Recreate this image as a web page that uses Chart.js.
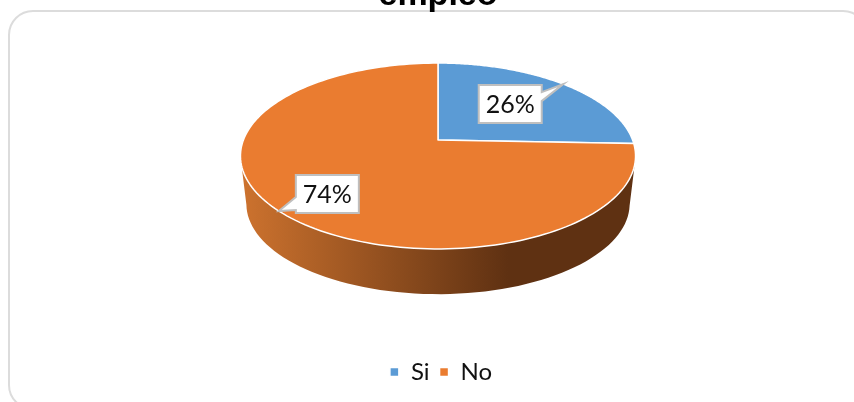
<!DOCTYPE html>
<html>
<head>
<meta charset="utf-8">
<title>empleo</title>
<script src="https://cdn.jsdelivr.net/npm/chart.js@4/dist/chart.umd.js"></script>
<style>
    html, body { margin: 0; width: 854px; height: 402px; overflow: hidden; background: #fff; }
    #card { position: absolute; left: 8px; top: 10px; width: 860px; height: 400px; box-sizing: border-box;
            border: 2px solid #dcdcdc; border-radius: 25px; }
    #wrap { position: absolute; left: 0; top: -25px; width: 854px; height: 427px; }
</style>
</head>
<body>
<div id="card"></div>
<div id="wrap"><canvas id="pieChart"></canvas></div>
<script>
const chartTitle = 'empleo';
const categories = ['Si', 'No'];
const values = [25.6, 74.4];
const sliceColors = ['#5b9bd5', '#ea7c30'];

// Pie is flattened with a perspective, so the apex sits above the middle of the ellipse
const PIE_CENTER_Y = 165; // canvas starts 25px above the page
const PIE_TILT = 0.4635;
const PIE_PERSPECTIVE = -0.172;
const WALL_SCALE = 0.97;
const WALL_DROP = 48;
const WALL_MIN_SIN = 0.17;

// Callout boxes, offset from the rim point in the middle of each slice
const callouts = [
    { dx: -53, dy: 20, baseFrom: -12, baseTo: -3 },
    { dx: 48.5, dy: -17, baseFrom: 3, baseTo: 16 }
];
const CALLOUT_W = 63;
const CALLOUT_H = 38;

function rimPoint(el, angle) {
    const u = Math.cos(angle);
    const v = Math.sin(angle);
    const d = 1 + PIE_PERSPECTIVE * v;
    return {
        x: el.x + el.outerRadius * u / d,
        y: PIE_CENTER_Y + el.outerRadius * PIE_TILT * v / d
    };
}

function ellipseMidY(el) {
    return (rimPoint(el, -Math.PI / 2).y + rimPoint(el, Math.PI / 2).y) / 2;
}

function wallPoint(el, angle) {
    const p = rimPoint(el, angle);
    const midY = ellipseMidY(el);
    return {
        x: el.x + (p.x - el.x) * WALL_SCALE,
        y: midY + (p.y - midY) * WALL_SCALE + WALL_DROP
    };
}

function drawWall(ctx, el) {
    const steps = 120;
    const pts = [];
    for (let i = 0; i <= steps; i++) {
        const a = el.startAngle + (el.endAngle - el.startAngle) * i / steps;
        if (Math.sin(a) >= WALL_MIN_SIN) pts.push(a);
    }
    if (pts.length < 2) return;
    const r = el.outerRadius;
    const grad = ctx.createLinearGradient(el.x - r, 0, el.x + r, 0);
    grad.addColorStop(0, '#cc722e');
    grad.addColorStop(0.68, '#5f3112');
    grad.addColorStop(1, '#5f3112');
    ctx.beginPath();
    pts.forEach((a, i) => {
        const p = rimPoint(el, a);
        if (i === 0) ctx.moveTo(p.x, p.y); else ctx.lineTo(p.x, p.y);
    });
    pts.slice().reverse().forEach(a => {
        const p = wallPoint(el, a);
        ctx.lineTo(p.x, p.y);
    });
    ctx.closePath();
    ctx.fillStyle = grad;
    ctx.fill();
}

// Replace the round arc with the tilted one, angles still come from the library
Chart.ArcElement.prototype.draw = function (ctx) {
    const steps = 160;
    ctx.save();
    drawWall(ctx, this);
    ctx.beginPath();
    ctx.moveTo(this.x, PIE_CENTER_Y);
    for (let i = 0; i <= steps; i++) {
        const p = rimPoint(this, this.startAngle + (this.endAngle - this.startAngle) * i / steps);
        ctx.lineTo(p.x, p.y);
    }
    ctx.closePath();
    ctx.fillStyle = this.options.backgroundColor;
    ctx.fill();
    ctx.lineJoin = 'round';
    ctx.lineWidth = this.options.borderWidth;
    ctx.strokeStyle = this.options.borderColor;
    ctx.stroke();
    ctx.restore();
};

const calloutPlugin = {
    id: 'callouts',
    afterLayout(chart) {
        // legend sits a little right of the pie centre
        chart.legend.left += 3;
        chart.legend.right += 3;
    },
    afterDatasetsDraw(chart) {
        const ctx = chart.ctx;
        const total = values.reduce((a, b) => a + b, 0);
        chart.getDatasetMeta(0).data.forEach((el, i) => {
            const tip = rimPoint(el, (el.startAngle + el.endAngle) / 2);
            const c = callouts[i];
            const cx = tip.x + c.dx;
            const cy = tip.y + c.dy;
            const l = cx - CALLOUT_W / 2, r = cx + CALLOUT_W / 2;
            const t = cy - CALLOUT_H / 2, b = cy + CALLOUT_H / 2;
            ctx.save();
            ctx.beginPath();
            ctx.moveTo(l, t);
            if (tip.x > cx) {
                ctx.lineTo(r, t);
                ctx.lineTo(r, cy + c.baseFrom);
                ctx.lineTo(tip.x, tip.y);
                ctx.lineTo(r, cy + c.baseTo);
                ctx.lineTo(r, b);
                ctx.lineTo(l, b);
            } else {
                ctx.lineTo(r, t);
                ctx.lineTo(r, b);
                ctx.lineTo(l, b);
                ctx.lineTo(l, cy + c.baseTo);
                ctx.lineTo(tip.x, tip.y);
                ctx.lineTo(l, cy + c.baseFrom);
            }
            ctx.closePath();
            ctx.fillStyle = '#ffffff';
            ctx.fill();
            ctx.lineWidth = 2;
            ctx.strokeStyle = '#bfbfbf';
            ctx.stroke();
            ctx.fillStyle = '#111111';
            ctx.font = '25px Lato';
            ctx.textAlign = 'center';
            ctx.textBaseline = 'middle';
            ctx.fillText(Math.round(values[i] / total * 100) + '%', cx, cy + 1);
            ctx.restore();
        });
    }
};

new Chart(document.getElementById('pieChart').getContext('2d'), {
    type: 'pie',
    data: {
        labels: categories,
        datasets: [{
            data: values,
            backgroundColor: sliceColors,
            borderColor: '#ffffff',
            borderWidth: 1.5,
            radius: 194.6
        }]
    },
    options: {
        responsive: true,
        maintainAspectRatio: false,
        animation: false,
        layout: { padding: { left: 22, bottom: 8 } },
        plugins: {
            title: {
                display: true,
                text: chartTitle,
                color: '#000000',
                font: { family: 'Liberation Sans', size: 34, weight: 'bold' },
                padding: 0
            },
            legend: {
                position: 'bottom',
                labels: {
                    boxWidth: 9,
                    boxHeight: 9,
                    color: '#111111',
                    font: { family: 'Lato', size: 24 },
                    padding: 10
                }
            },
            tooltip: { enabled: false }
        }
    },
    plugins: [calloutPlugin]
});
</script>
</body>
</html>
